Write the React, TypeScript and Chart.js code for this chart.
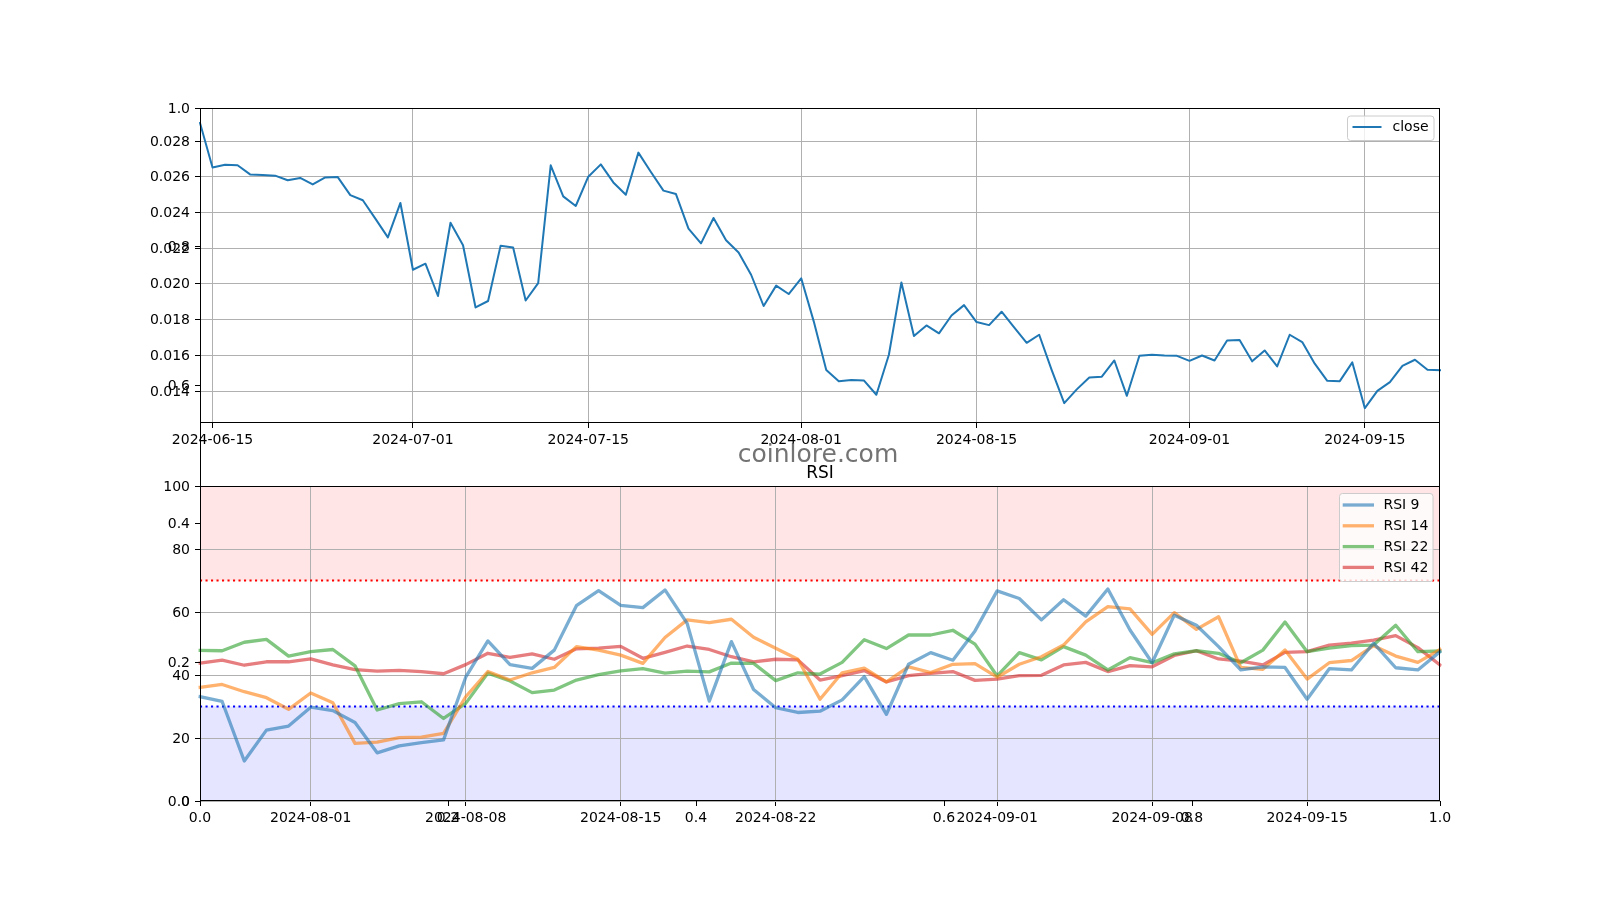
import React, { useEffect, useRef } from 'react';
import { Chart, registerables } from 'chart.js';

Chart.register(...registerables);

// ---------------- DATA ----------------
const closeDates = [
  '2024-06-14', '2024-06-15', '2024-06-16', '2024-06-17', '2024-06-18', '2024-06-19', '2024-06-20', '2024-06-21', '2024-06-22', '2024-06-23',
  '2024-06-24', '2024-06-25', '2024-06-26', '2024-06-27', '2024-06-28', '2024-06-29', '2024-06-30', '2024-07-01', '2024-07-02', '2024-07-03',
  '2024-07-04', '2024-07-05', '2024-07-06', '2024-07-07', '2024-07-08', '2024-07-09', '2024-07-10', '2024-07-11', '2024-07-12', '2024-07-13',
  '2024-07-14', '2024-07-15', '2024-07-16', '2024-07-17', '2024-07-18', '2024-07-19', '2024-07-20', '2024-07-21', '2024-07-22', '2024-07-23',
  '2024-07-24', '2024-07-25', '2024-07-26', '2024-07-27', '2024-07-28', '2024-07-29', '2024-07-30', '2024-07-31', '2024-08-01', '2024-08-02',
  '2024-08-03', '2024-08-04', '2024-08-05', '2024-08-06', '2024-08-07', '2024-08-08', '2024-08-09', '2024-08-10', '2024-08-11', '2024-08-12',
  '2024-08-13', '2024-08-14', '2024-08-15', '2024-08-16', '2024-08-17', '2024-08-18', '2024-08-19', '2024-08-20', '2024-08-21', '2024-08-22',
  '2024-08-23', '2024-08-24', '2024-08-25', '2024-08-26', '2024-08-27', '2024-08-28', '2024-08-29', '2024-08-30', '2024-08-31', '2024-09-01',
  '2024-09-02', '2024-09-03', '2024-09-04', '2024-09-05', '2024-09-06', '2024-09-07', '2024-09-08', '2024-09-09', '2024-09-10', '2024-09-11',
  '2024-09-12', '2024-09-13', '2024-09-14', '2024-09-15', '2024-09-16', '2024-09-17', '2024-09-18', '2024-09-19', '2024-09-20', '2024-09-21',
];

const closeValues = [
  0.02901, 0.02652, 0.02667, 0.02664, 0.02613, 0.02610, 0.02606, 0.02580, 0.02593, 0.02557,
  0.02596, 0.02598, 0.02497, 0.02468, 0.02365, 0.02260, 0.02453, 0.02079, 0.02113, 0.01932,
  0.02342, 0.02216, 0.01868, 0.01904, 0.02214, 0.02204, 0.01907, 0.02004, 0.02664, 0.02490,
  0.02436, 0.02600, 0.02669, 0.02568, 0.02499, 0.02735, 0.02626, 0.02522, 0.02503, 0.02309,
  0.02227, 0.02369, 0.02244, 0.02176, 0.02051, 0.01876, 0.01990, 0.01943, 0.02031, 0.01790,
  0.01517, 0.01455, 0.01461, 0.01459, 0.01379, 0.01603, 0.02008, 0.01708, 0.01767, 0.01723,
  0.01823, 0.01881, 0.01786, 0.01769, 0.01844, 0.01756, 0.01670, 0.01715, 0.01517, 0.01332,
  0.01409, 0.01476, 0.01480, 0.01571, 0.01373, 0.01597, 0.01603, 0.01599, 0.01597, 0.01569,
  0.01599, 0.01571, 0.01683, 0.01685, 0.01566, 0.01627, 0.01538, 0.01715, 0.01674, 0.01553,
  0.01457, 0.01455, 0.01560, 0.01304, 0.01401, 0.01450, 0.01541, 0.01575, 0.01519, 0.01517,
];

const closeTickLabels = ['2024-06-15', '2024-07-01', '2024-07-15', '2024-08-01', '2024-08-15', '2024-09-01', '2024-09-15'];
const closeYTicks = [0.014, 0.016, 0.018, 0.020, 0.022, 0.024, 0.026, 0.028];
const closeYMin = 0.012208;
const closeYMax = 0.029848;

const rsiDates = closeDates.slice(43); // 2024-07-27 .. 2024-09-21

const rsi9 = [
  33.1, 31.6, 12.7, 22.5, 23.8, 29.8, 28.7, 24.9, 15.3, 17.5, 18.5, 19.4, 39.3, 50.8, 43.3, 42.1, 47.9,
  62.0, 66.8, 62.1, 61.4, 67.0, 56.4, 31.7, 50.6, 35.4, 29.6, 28.1, 28.5, 32.1, 39.5, 27.5, 43.4, 47.1, 44.7, 54.0,
  66.7, 64.3, 57.5, 63.9, 58.7, 67.3, 54.3, 43.9, 59.0, 55.8, 49.0, 41.6, 42.6, 42.4, 32.3, 42.0, 41.6, 50.1, 42.3, 41.6, 47.4,
];
const rsi14 = [
  36.1, 37.0, 34.7, 32.8, 29.1, 34.3, 31.2, 18.3, 18.7, 20.1, 20.3, 21.5, 33.1, 41.1, 38.4, 40.7, 42.4,
  49.0, 47.9, 46.3, 43.7, 51.9, 57.5, 56.6, 57.7, 52.0, 48.5, 45.0, 32.3, 40.7, 42.2, 37.8, 42.6, 40.8, 43.4, 43.6,
  39.3, 43.4, 45.8, 49.5, 56.9, 61.7, 61.0, 52.9, 59.8, 54.5, 58.5, 42.4, 41.8, 47.9, 38.7, 43.9, 44.6, 49.3, 46.0, 44.0, 48.1,
];
const rsi22 = [
  47.8, 47.7, 50.4, 51.3, 46.0, 47.4, 48.1, 42.9, 28.9, 30.9, 31.5, 26.2, 31.0, 40.6, 38.1, 34.4, 35.2,
  38.4, 40.1, 41.3, 42.0, 40.6, 41.2, 41.0, 43.8, 43.7, 38.2, 40.7, 40.3, 44.0, 51.2, 48.4, 52.7, 52.7, 54.2, 49.8,
  39.7, 47.1, 44.8, 49.0, 46.3, 41.6, 45.5, 43.9, 46.7, 47.7, 46.9, 43.9, 47.9, 56.8, 47.4, 48.5, 49.3, 49.5, 55.8, 47.4, 47.6,
];
const rsi42 = [
  43.8, 44.7, 43.1, 44.2, 44.2, 45.1, 43.2, 41.7, 41.2, 41.5, 41.1, 40.4, 43.3, 46.9, 45.6, 46.7, 45.0,
  48.3, 48.5, 49.1, 45.3, 47.2, 49.2, 48.1, 45.8, 44.2, 45.0, 44.8, 38.4, 39.8, 41.4, 37.8, 39.8, 40.5, 41.1, 38.3,
  38.7, 39.8, 39.9, 43.2, 44.0, 41.1, 43.0, 42.6, 46.2, 47.7, 45.1, 44.4, 43.2, 47.2, 47.4, 49.5, 50.1, 51.1, 52.5, 48.7, 43.2,
];
const rsiLabels = ['RSI 9', 'RSI 14', 'RSI 22', 'RSI 42'];
const rsiTickLabels = ['2024-08-01', '2024-08-08', '2024-08-15', '2024-08-22', '2024-09-01', '2024-09-08', '2024-09-15'];
const rsiYTicks = [0, 20, 40, 60, 80, 100];
const overbought = 70;
const oversold = 30;

const bgTicks = [0, 0.2, 0.4, 0.6, 0.8, 1.0];

// ---------------- LAYOUT / STYLE ----------------
const W = 1600, H = 900;
const LEFT = 200, RIGHT = 1440;
const TOP1 = 108, BOT1 = 423, TOP2 = 486, BOT2 = 801;
const XAXIS_H = 40;
const FONT = "'DejaVu Sans', sans-serif";
const FS = 14;
const GRID = '#b0b0b0';
const rsiColors = ['rgba(31,119,180,0.6)', 'rgba(255,127,14,0.6)', 'rgba(44,160,44,0.6)', 'rgba(214,39,40,0.6)'];

function fillArea(chart: any) {
  const { ctx, chartArea: a } = chart;
  ctx.save();
  ctx.fillStyle = '#ffffff';
  ctx.fillRect(a.left, a.top, a.right - a.left, a.bottom - a.top);
  ctx.restore();
}

function drawFrame(chart: any) {
  const { ctx, chartArea: a } = chart;
  ctx.save();
  ctx.strokeStyle = '#000';
  ctx.lineWidth = 1;
  ctx.strokeRect(a.left + 0.5, a.top + 0.5, a.right - a.left - 1, a.bottom - a.top - 1);
  ctx.restore();
}

function drawLegend(ctx: CanvasRenderingContext2D, box: { x: number; y: number; w: number; h: number },
  items: { label: string; color: string; width: number; y: number }[], lineX0: number, lineX1: number, textX: number) {
  ctx.save();
  ctx.beginPath();
  (ctx as any).roundRect(box.x + 0.5, box.y + 0.5, box.w, box.h, 3);
  ctx.fillStyle = 'rgba(255,255,255,0.8)';
  ctx.fill();
  ctx.strokeStyle = '#cccccc';
  ctx.lineWidth = 1;
  ctx.stroke();
  for (const it of items) {
    ctx.beginPath();
    ctx.strokeStyle = it.color;
    ctx.lineWidth = it.width;
    ctx.lineCap = 'butt';
    ctx.moveTo(lineX0, it.y);
    ctx.lineTo(lineX1, it.y);
    ctx.stroke();
    ctx.fillStyle = '#000';
    ctx.font = `${FS}px ${FONT}`;
    ctx.textBaseline = 'middle';
    ctx.textAlign = 'left';
    ctx.fillText(it.label, textX, it.y + 0.5);
  }
  ctx.restore();
}

function xScale(labels: string[], ticks: string[]) {
  const idx = ticks.map((t) => labels.indexOf(t));
  return {
    type: 'category' as const,
    offset: false,
    afterBuildTicks: (s: any) => { s.ticks = idx.map((i) => ({ value: i })); },
    afterFit: (s: any) => { s.height = XAXIS_H; },
    grid: { color: GRID, lineWidth: 1, tickLength: 5, tickColor: '#000', tickWidth: 1 },
    border: { display: false },
    ticks: { autoSkip: false, maxRotation: 0, minRotation: 0, padding: 4, color: '#000', font: { family: FONT, size: FS } },
  };
}

function yScale(min: number, max: number, ticks: number[], fmt: (v: number) => string) {
  return {
    type: 'linear' as const,
    min, max,
    afterBuildTicks: (s: any) => { s.ticks = ticks.map((v) => ({ value: v })); },
    afterFit: (s: any) => { s.width = LEFT; },
    grid: { color: GRID, lineWidth: 1, tickLength: 5, tickColor: '#000', tickWidth: 1 },
    border: { display: false },
    ticks: { padding: 5, labelOffset: 1, color: '#000', font: { family: FONT, size: FS }, callback: (v: any) => fmt(Number(v)) },
  };
}

const baseOptions = (top: number, bottom: number) => ({
  animation: false as const,
  responsive: false,
  devicePixelRatio: 1,
  events: [] as any[],
  layout: { padding: { left: 0, right: W - RIGHT, top, bottom: H - bottom - XAXIS_H } },
  plugins: { legend: { display: false }, tooltip: { enabled: false }, title: { display: false } },
});

export default function App() {
  const topRef = useRef<HTMLCanvasElement>(null);
  const rsiRef = useRef<HTMLCanvasElement>(null);
  const bgRef = useRef<HTMLCanvasElement>(null);

  useEffect(() => {
    const charts: Chart[] = [];

    // ---- Top: close price ----
    const topPlugin = {
      id: 'topPlugin',
      beforeDraw: (c: any) => fillArea(c),
      afterDatasetsDraw: (c: any) => drawFrame(c),
      afterDraw: (c: any) => {
        drawLegend(c.ctx, { x: 1347, y: 115.5, w: 86.5, h: 24.5 },
          [{ label: c.data.datasets[0].label, color: '#1f77b4', width: 2, y: 127 }], 1352.5, 1381.5, 1392.5);
      },
    };
    charts.push(new Chart(topRef.current!, {
      type: 'line',
      data: {
        labels: closeDates,
        datasets: [{
          label: 'close', data: closeValues, borderColor: '#1f77b4', borderWidth: 2,
          pointRadius: 0, tension: 0, borderJoinStyle: 'round', borderCapStyle: 'square', fill: false,
        }],
      },
      options: {
        ...baseOptions(TOP1, BOT1),
        scales: {
          x: xScale(closeDates, closeTickLabels),
          y: yScale(closeYMin, closeYMax, closeYTicks, (v) => v.toFixed(3)),
        },
      } as any,
      plugins: [topPlugin],
    }));

    // ---- Bottom: RSI ----
    const rsiPlugin = {
      id: 'rsiPlugin',
      beforeDraw: (c: any) => {
        fillArea(c);
        const { ctx, chartArea: a, scales } = c;
        const y = scales.y;
        ctx.save();
        ctx.fillStyle = 'rgba(255,0,0,0.1)';
        ctx.fillRect(a.left, y.getPixelForValue(100), a.right - a.left, y.getPixelForValue(overbought) - y.getPixelForValue(100));
        ctx.fillStyle = 'rgba(0,0,255,0.1)';
        ctx.fillRect(a.left, y.getPixelForValue(oversold), a.right - a.left, y.getPixelForValue(0) - y.getPixelForValue(oversold));
        ctx.restore();
      },
      beforeDatasetsDraw: (c: any) => {
        const { ctx, chartArea: a, scales } = c;
        const y = scales.y;
        ctx.save();
        ctx.lineWidth = 2.1;
        ctx.setLineDash([2.1, 3.4]);
        [[overbought, '#ff0000'], [oversold, '#0000ff']].forEach(([v, col]) => {
          const py = y.getPixelForValue(v as number);
          ctx.beginPath();
          ctx.strokeStyle = col as string;
          ctx.moveTo(a.left, py);
          ctx.lineTo(a.right, py);
          ctx.stroke();
        });
        ctx.restore();
      },
      afterDatasetsDraw: (c: any) => drawFrame(c),
      afterDraw: (c: any) => {
        const ctx = c.ctx as CanvasRenderingContext2D;
        const rows = [505, 525.8, 546.6, 567.4];
        drawLegend(ctx, { x: 1339, y: 493, w: 93.5, h: 88 },
          c.data.datasets.map((d: any, i: number) => ({ label: d.label, color: rsiColors[i], width: 3.3, y: rows[i] })),
          1342.7, 1374, 1383.4);
        ctx.save();
        ctx.fillStyle = '#000';
        ctx.font = `17px ${FONT}`;
        ctx.textAlign = 'center';
        ctx.textBaseline = 'alphabetic';
        ctx.fillText('RSI', (LEFT + RIGHT) / 2, 477.5);
        ctx.restore();
      },
    };
    const rsiSeries = [rsi9, rsi14, rsi22, rsi42];
    charts.push(new Chart(rsiRef.current!, {
      type: 'line',
      data: {
        labels: rsiDates,
        datasets: rsiSeries.map((d, i) => ({
          label: rsiLabels[i], data: d, borderColor: rsiColors[i], borderWidth: 3.3,
          pointRadius: 0, tension: 0, borderJoinStyle: 'round', borderCapStyle: 'square', fill: false,
        })),
      },
      options: {
        ...baseOptions(TOP2, BOT2),
        scales: {
          x: xScale(rsiDates, rsiTickLabels),
          y: yScale(0, 100, rsiYTicks, (v) => String(Math.round(v))),
        },
      } as any,
      plugins: [rsiPlugin],
    }));

    // ---- Background figure-level axes (0..1) ----
    const bgPlugin = {
      id: 'bgPlugin',
      afterDraw: (c: any) => {
        drawFrame(c);
        const ctx = c.ctx as CanvasRenderingContext2D;
        ctx.save();
        ctx.fillStyle = 'rgba(90,90,90,0.85)';
        ctx.font = `25px ${FONT}`;
        ctx.textAlign = 'center';
        ctx.textBaseline = 'alphabetic';
        ctx.fillText('coinlore.com', 818, 462);
        ctx.restore();
      },
    };
    charts.push(new Chart(bgRef.current!, {
      type: 'line',
      data: { labels: [], datasets: [] },
      options: {
        ...baseOptions(TOP1, BOT2),
        scales: {
          x: {
            type: 'linear', min: 0, max: 1,
            afterBuildTicks: (s: any) => { s.ticks = bgTicks.map((v) => ({ value: v })); },
            afterFit: (s: any) => { s.height = XAXIS_H; },
            grid: { drawOnChartArea: false, tickLength: 5, tickColor: '#000', tickWidth: 1, color: '#000' },
            border: { display: false },
            ticks: { autoSkip: false, maxRotation: 0, padding: 4, color: '#000', font: { family: FONT, size: FS }, callback: (v: any) => Number(v).toFixed(1) },
          },
          y: {
            type: 'linear', min: 0, max: 1,
            afterBuildTicks: (s: any) => { s.ticks = bgTicks.map((v) => ({ value: v })); },
            afterFit: (s: any) => { s.width = LEFT; },
            grid: { drawOnChartArea: false, tickLength: 5, tickColor: '#000', tickWidth: 1, color: '#000' },
            border: { display: false },
            ticks: { padding: 5, labelOffset: 1, color: '#000', font: { family: FONT, size: FS }, callback: (v: any) => Number(v).toFixed(1) },
          },
        },
      } as any,
      plugins: [bgPlugin],
    }));

    return () => { charts.forEach((ch) => ch.destroy()); };
  }, []);

  const cs: React.CSSProperties = { position: 'absolute', left: 0, top: 0, width: W, height: H };
  return (
    <div style={{ position: 'fixed', left: 0, top: 0, width: W, height: H, background: '#ffffff' }}>
      <canvas ref={topRef} width={W} height={H} style={cs} />
      <canvas ref={rsiRef} width={W} height={H} style={cs} />
      <canvas ref={bgRef} width={W} height={H} style={cs} />
    </div>
  );
}
